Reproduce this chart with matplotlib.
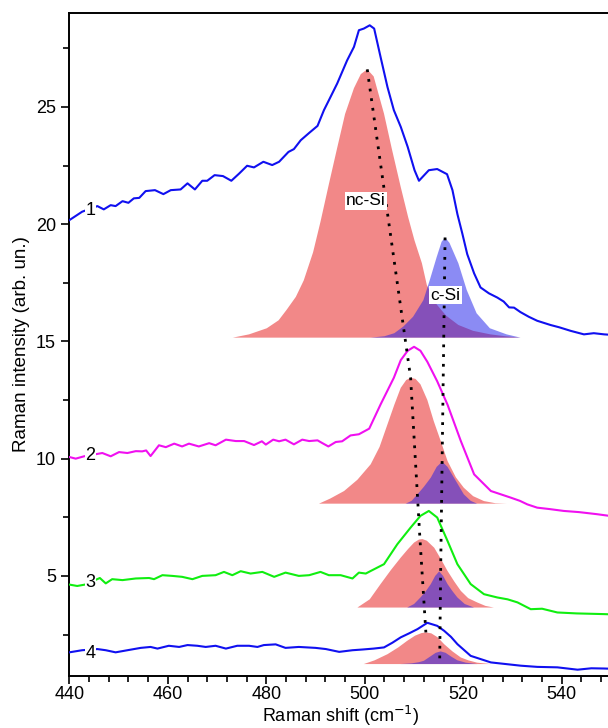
import matplotlib.pyplot as plt
from matplotlib.ticker import MultipleLocator

plt.rcParams.update({'font.size': 13, 'font.family': ['Liberation Sans', 'DejaVu Sans']})

# spectra (Raman shift, intensity)
x1 = [440, 442.6, 445.7, 447.0, 448.4, 449.4, 450.8, 452.0, 453.1, 454.2, 455.5, 457.4, 459.1, 460.6,
      462.6, 464.0, 465.5, 467.0, 468.0, 469.5, 471.2, 472.9, 474.5, 476.1, 477.5, 479.4, 481.2, 482.6,
      484.5, 485.6, 487.0, 488.7, 490.4, 491.7, 492.7, 494.4, 496.4, 497.8, 498.8, 499.8, 501.0, 501.9,
      503.2, 504.6, 505.9, 507.3, 508.7, 510.1, 511.0, 513.0, 514.7, 516.7, 517.8, 518.8, 519.8, 520.8,
      522.2, 523.5, 525.2, 526.9, 528.2, 529.3, 530.3, 531.6, 533.3, 535.0, 537.7, 539.5, 541.8, 544.5,
      546.5, 548.6, 550]
y1 = [20.17, 20.53, 20.77, 20.63, 20.81, 20.77, 20.98, 20.91, 21.10, 21.12, 21.41, 21.45, 21.28, 21.45,
      21.48, 21.74, 21.48, 21.85, 21.85, 22.09, 22.05, 21.85, 22.16, 22.49, 22.42, 22.66, 22.52, 22.66,
      23.08, 23.20, 23.58, 23.89, 24.19, 24.86, 25.28, 26.00, 26.98, 27.56, 28.27, 28.34, 28.48, 28.34,
      27.13, 25.85, 24.86, 24.15, 23.30, 22.30, 21.85, 22.30, 22.35, 22.13, 21.45, 20.43, 19.60, 18.72,
      17.90, 17.30, 17.05, 16.87, 16.70, 16.45, 16.44, 16.25, 16.05, 15.88, 15.70, 15.60, 15.45, 15.30,
      15.35, 15.30, 15.28]

x2 = [440, 441.3, 443.0, 446.7, 448.4, 450.1, 451.8, 453.5, 454.8, 455.6, 456.5, 458.2, 459.6, 461.3,
      462.9, 464.3, 466.3, 468.4, 469.7, 471.8, 473.8, 475.5, 477.5, 479.1, 479.9, 481.4, 482.6, 483.9,
      485.6, 487.3, 488.7, 490.4, 491.4, 492.6, 494.1, 495.4, 497.1, 498.8, 500.9, 503.2, 505.9, 507.3,
      508.7, 510.0, 511.3, 512.7, 514.7, 516.8, 519.5, 522.2, 525.6, 529.6, 531.5, 533.0, 535.0, 537.5,
      540.4, 543.5, 547.2, 550]
y2 = [10.07, 10.00, 10.10, 10.24, 10.10, 10.28, 10.24, 10.32, 10.31, 10.35, 10.11, 10.57, 10.49, 10.64,
      10.52, 10.64, 10.52, 10.66, 10.57, 10.81, 10.75, 10.75, 10.58, 10.74, 10.60, 10.81, 10.74, 10.81,
      10.61, 10.81, 10.75, 10.78, 10.66, 10.52, 10.71, 10.74, 10.99, 11.04, 11.28, 12.31, 13.45, 14.20,
      14.60, 14.77, 14.60, 14.13, 13.30, 12.30, 10.75, 9.33, 8.62, 8.34, 8.20, 8.05, 7.91, 7.85,
      7.77, 7.72, 7.63, 7.55]

x3 = [440, 441.6, 443.2, 446.2, 447.4, 448.7, 450.8, 453.5, 456.2, 457.2, 458.9, 460.9, 462.9, 465.0,
      467.0, 469.7, 471.4, 473.1, 474.8, 476.8, 479.2, 481.6, 483.9, 486.6, 488.7, 491.0, 492.7, 495.1,
      497.5, 498.8, 500.2, 501.2, 503.9, 506.6, 509.3, 511.3, 513.0, 514.7, 516.8, 518.8, 521.5, 524.2,
      526.9, 529.0, 531.0, 533.7, 536.0, 539.1, 543.0, 548.6, 550]
y3 = [4.63, 4.57, 4.63, 4.91, 4.68, 4.86, 4.82, 4.89, 4.91, 4.86, 5.03, 5.00, 4.96, 4.86,
      5.00, 5.03, 5.17, 5.03, 5.20, 5.10, 5.17, 4.96, 5.14, 5.00, 5.03, 5.17, 5.03, 5.03,
      4.89, 5.14, 5.10, 5.21, 5.50, 6.35, 7.06, 7.56, 7.77, 7.49, 6.49, 5.50, 4.65, 4.22,
      4.08, 4.00, 3.87, 3.58, 3.60, 3.44, 3.40, 3.37, 3.36]

x4 = [440, 442.6, 445.7, 447.4, 449.4, 451.8, 454.5, 456.5, 457.9, 460.2, 462.3, 464.0, 466.0, 467.7,
      469.7, 471.8, 474.1, 476.5, 478.2, 479.5, 481.9, 483.9, 486.6, 490.0, 492.1, 494.8, 497.5, 499.5,
      501.8, 503.9, 505.6, 507.3, 509.0, 510.7, 512.7, 514.7, 516.1, 517.5, 518.8, 521.5, 525.6, 531.7,
      535.0, 539.1, 543.2, 546.0, 548.6, 550]
y4 = [1.74, 1.83, 1.88, 1.83, 1.74, 1.83, 1.93, 1.97, 1.90, 2.02, 1.97, 2.05, 2.02, 1.97,
      2.02, 1.90, 2.02, 2.02, 1.97, 2.05, 2.08, 1.93, 1.97, 1.93, 1.88, 1.76, 1.83, 1.86,
      1.90, 1.95, 2.15, 2.38, 2.55, 2.73, 3.00, 2.87, 2.66, 2.40, 2.09, 1.59, 1.31, 1.17,
      1.12, 1.10, 1.00, 1.06, 1.05, 1.04]

# fitted components: nc-Si (red) and c-Si (blue)
nc1_x = [473.2, 476.5, 480.1, 482.5, 484.1, 486.0, 487.6, 489.5, 491.0, 492.7, 494.4, 496.0, 497.8, 499.2,
         500.5, 501.8, 503.9, 505.5, 507.3, 508.8, 510.1, 511.6, 512.6, 514.5, 516.5, 519.0, 522.0, 525.5,
         528.5, 531.6]
nc1_y = [15.16, 15.30, 15.56, 15.90, 16.34, 16.90, 17.60, 18.80, 20.10, 21.70, 23.26, 24.70, 25.80, 26.40,
         26.60, 26.30, 24.71, 23.20, 21.58, 20.30, 19.30, 18.33, 17.40, 16.60, 16.10, 15.70, 15.45, 15.30,
         15.22, 15.16]
c1_x = [501.2, 504.0, 506.0, 507.8, 509.8, 511.9, 513.2, 514.6, 515.6, 516.3, 517.2, 519.0, 520.7, 522.7,
        525.4, 528.8, 531.6]
c1_y = [15.16, 15.22, 15.35, 15.63, 16.05, 16.76, 17.62, 18.60, 19.25, 19.43, 19.20, 18.33, 17.19, 16.20,
        15.56, 15.30, 15.16]

nc2_x = [490.7, 493.0, 495.8, 498.5, 501.2, 503.0, 504.6, 506.0, 507.3, 508.4, 509.3, 510.3, 511.3, 512.7,
         514.0, 515.5, 516.8, 518.5, 520.1, 522.0, 524.2, 526.5, 528.8]
nc2_y = [8.08, 8.30, 8.62, 9.10, 9.76, 10.50, 11.46, 12.30, 13.02, 13.35, 13.45, 13.40, 13.17, 12.50,
         11.60, 10.70, 9.90, 9.20, 8.76, 8.40, 8.19, 8.10, 8.08]
c2_x = [508.3, 509.5, 510.7, 512.0, 513.4, 514.6, 515.7, 516.8, 518.1, 519.2, 520.1, 521.5, 522.8]
c2_y = [8.08, 8.20, 8.48, 8.80, 9.19, 9.65, 9.87, 9.65, 9.19, 8.80, 8.48, 8.20, 8.08]

nc3_x = [498.5, 501.0, 503.2, 505.3, 507.3, 508.8, 510.0, 511.0, 511.7, 512.6, 514.1, 515.5, 516.8, 518.2,
         519.5, 521.0, 522.8, 524.5, 526.2]
nc3_y = [3.65, 4.00, 4.65, 5.25, 5.78, 6.15, 6.42, 6.55, 6.57, 6.50, 6.20, 5.70, 5.21, 4.75,
         4.36, 4.05, 3.87, 3.72, 3.65]
c3_x = [508.6, 510.0, 511.3, 512.4, 513.4, 514.3, 515.1, 515.9, 516.8, 517.8, 518.8, 520.3, 522.2]
c3_y = [3.65, 3.80, 4.08, 4.35, 4.65, 5.00, 5.19, 5.00, 4.65, 4.35, 4.08, 3.80, 3.65]

nc4_x = [499.8, 502.0, 504.6, 506.8, 508.6, 510.2, 511.5, 512.4, 513.5, 514.8, 516.1, 517.8, 519.5, 521.0,
         522.8, 525.6]
nc4_y = [1.24, 1.40, 1.66, 1.95, 2.23, 2.45, 2.56, 2.59, 2.55, 2.38, 2.09, 1.78, 1.52, 1.40, 1.30, 1.24]
c4_x = [507.3, 509.5, 511.0, 512.0, 513.2, 514.4, 515.4, 516.4, 517.6, 518.8, 520.5, 522.8]
c4_y = [1.24, 1.27, 1.32, 1.38, 1.55, 1.72, 1.78, 1.72, 1.55, 1.40, 1.30, 1.24]

# peak position guides
nc_line_x = [500.5, 509.3, 511.2, 512.4]
nc_line_y = [26.6, 13.45, 6.57, 2.59]
c_line_x = [516.3, 515.7, 515.4, 515.2]
c_line_y = [19.43, 9.87, 5.19, 1.2]

labels = ["1", "2", "3", "4"]
label_y = [20.6, 10.12, 4.72, 1.7]

fig = plt.figure(figsize=(6.08, 7.28), dpi=100)
ax = fig.add_axes([0.114, 0.0714, 0.891, 0.9106])

red = '#F28888'
blue = '#1919EB'
for nx, ny, cx, cy in [(nc1_x, nc1_y, c1_x, c1_y), (nc2_x, nc2_y, c2_x, c2_y),
                       (nc3_x, nc3_y, c3_x, c3_y), (nc4_x, nc4_y, c4_x, c4_y)]:
    ax.fill(nx, ny, color=red, lw=0, zorder=1)
    ax.fill(cx, cy, color=blue, alpha=0.5, lw=0, zorder=2)

ax.plot(x1, y1, color='#1010F0', lw=1.5, zorder=3)
ax.plot(x2, y2, color='#F010F0', lw=1.5, zorder=3)
ax.plot(x3, y3, color='#10EE10', lw=1.5, zorder=3)
ax.plot(x4, y4, color='#1010F0', lw=1.5, zorder=3)

ax.plot(nc_line_x, nc_line_y, color='black', lw=2, ls=(0, (1, 2.5)), zorder=4)
ax.plot(c_line_x, c_line_y, color='black', lw=2, ls=(0, (1, 2.5)), zorder=4)

for lab, ly in zip(labels, label_y):
    ax.text(444.3, ly, lab, ha='center', va='center', fontsize=13, zorder=5,
            bbox=dict(facecolor='white', edgecolor='none', pad=0.5))

ax.text(500.2, 21.0, "nc-Si", ha='center', va='center', fontsize=12.5, zorder=5,
        bbox=dict(facecolor='white', edgecolor='none', pad=1))
ax.text(516.4, 16.97, "c-Si", ha='center', va='center', fontsize=12.5, zorder=5,
        bbox=dict(facecolor='white', edgecolor='none', pad=1))

ax.set_xlim(440, 550)
ax.set_ylim(0.73, 29.0)
ax.xaxis.set_major_locator(MultipleLocator(20))
ax.xaxis.set_minor_locator(MultipleLocator(4))
ax.yaxis.set_major_locator(MultipleLocator(5))
ax.yaxis.set_minor_locator(MultipleLocator(2.5))
ax.tick_params(which='major', length=6, width=1.2, direction='out')
ax.tick_params(which='minor', length=4, width=1.2, direction='out')
ax.tick_params(axis='x', which='major', pad=1.5)
for s in ax.spines.values():
    s.set_linewidth(1.4)

ax.set_xlabel("Raman shift (cm$^{-1}$)", fontsize=13, va='bottom')
ax.xaxis.set_label_coords(0.5, -0.0785)
ax.set_ylabel("Raman intensity (arb. un.)", fontsize=13.5, labelpad=4)

fig.savefig("out.png", dpi=100)
